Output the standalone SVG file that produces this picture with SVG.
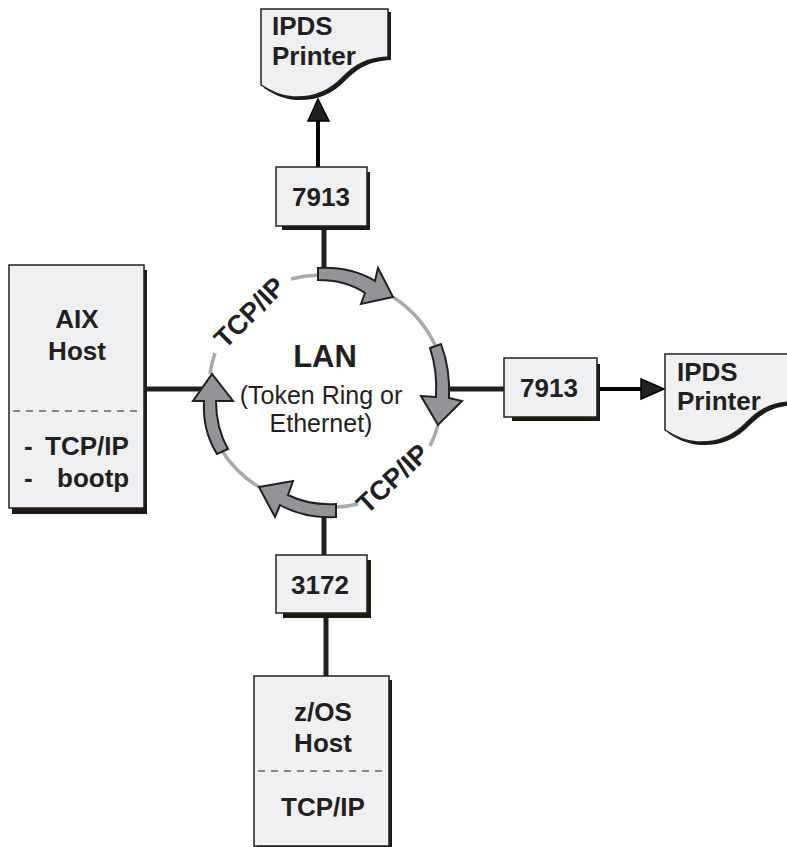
<svg xmlns="http://www.w3.org/2000/svg" width="787" height="847" viewBox="0 0 787 847">
<style>
text{font-family:"Liberation Sans",Arial,sans-serif;fill:#231f20}
.b{font-weight:bold;font-size:26px}
.m{text-anchor:middle}
.box{fill:#eff0f2;stroke:#231f20;stroke-width:1.5}
.sh{fill:#1e1a10}
.dash{stroke:#231f20;stroke-width:1;stroke-dasharray:7 6;fill:none}
.ln{stroke:#231f20;stroke-width:5;fill:none}
.ln2{stroke:#000;stroke-width:4;fill:none}
.ring{stroke:#a7a9ac;stroke-width:3.5;fill:none}
.arw{fill:#929497;stroke:#231f20;stroke-width:2;stroke-linejoin:miter}
.head{fill:#231f20;stroke:#000;stroke-width:1.5}
</style>
<defs>
<path id="pg" d="M261 9H388V57C366 58 354 66 343 77C329 92 312 98 293 97C280 96 270 91 261 85Z"/>
</defs>
<g id="connectors">
<path class="ln" d="M324 226V270"/>
<path class="ln" d="M146 389H208"/>
<path class="ln" d="M445 389H505"/>
<path class="ln" d="M324 515V556"/>
<path class="ln" d="M326 617V677"/>
<path class="ln2" d="M318 167V118"/>
<path class="head" d="M318 99L329 121H308Z"/>
<path class="ln2" d="M600 389H642"/>
<path class="head" d="M664 389L641 379V399Z"/>
<path class="ring" d="M291 279A116 116 0 0 1 318 275"/>
<path class="ring" d="M393 297A116 116 0 0 1 435 345"/>
<path class="ring" d="M438 425A116 116 0 0 1 430 446"/>
<path class="ring" d="M336 507A116 116 0 0 0 358 504"/>
<path class="ring" d="M259 487A116 116 0 0 1 222 451"/>
<path class="ring" d="M210 374A116 116 0 0 1 215 353"/>
</g>
<g id="ring-arrows">
<path class="arw" d="M318 268C340 267 360 272 375 281L378 268L393 297L361 304L365 293C352 284 336 280 318 280Z"/>
<path class="arw" d="M430 348L441 344C447 360 450 378 449 398L462 401L438 425L421 396L436 397C437 380 435 363 430 348Z"/>
<path class="arw" d="M336 504V517C315 518 296 514 280 505L275 517L259 487L293 481L288 495C302 502 318 505 336 504Z"/>
<path class="arw" d="M228 449L217 454C207 438 203 420 204 401H193L212 374L233 401H216C216 418 220 435 228 449Z"/>
</g>
<g id="lan">
<text class="m" x="325" y="367" font-size="31" font-weight="bold">LAN</text>
<text class="m" x="321" y="404" font-size="25">(Token Ring or</text>
<text class="m" x="321" y="432" font-size="25">Ethernet)</text>
<text class="m" font-size="27" font-weight="bold" transform="translate(249 312) rotate(-45)" x="0" y="10">TCP/IP</text>
<text class="m" font-size="27" font-weight="bold" transform="translate(392 478) rotate(-43)" x="0" y="10">TCP/IP</text>
</g>
<g id="printer-top">
<use href="#pg" class="sh" x="3" y="3"/>
<use href="#pg" fill="#eff0f2" stroke="#231f20" stroke-width="1.5"/>
<text class="b" x="272" y="35">IPDS</text>
<text class="b" x="272" y="65">Printer</text>
</g>
<g id="printer-right">
<use href="#pg" class="sh" x="407" y="348"/>
<use href="#pg" x="404" y="345" fill="#eff0f2" stroke="#231f20" stroke-width="1.5"/>
<text class="b" x="677" y="381">IPDS</text>
<text class="b" x="677" y="410">Printer</text>
</g>
<g id="box-7913-top">
<rect class="sh" x="282" y="172" width="88" height="58"/>
<rect class="box" x="276" y="167" width="91" height="59"/>
<text class="b m" x="321" y="206">7913</text>
</g>
<g id="box-7913-right">
<rect class="sh" x="512" y="364" width="88" height="57"/>
<rect class="box" x="504" y="358" width="93" height="59"/>
<text class="b m" x="549" y="397">7913</text>
</g>
<g id="box-3172">
<rect class="sh" x="283" y="560" width="88" height="58"/>
<rect class="box" x="276" y="555" width="91" height="58"/>
<text class="b m" x="320" y="594">3172</text>
</g>
<g id="aix-host">
<rect class="sh" x="12" y="270" width="135" height="244"/>
<rect class="box" x="9" y="265" width="135" height="243"/>
<path class="dash" d="M13 411H142"/>
<text class="b m" x="77" y="328">AIX</text>
<text class="b m" x="77" y="360">Host</text>
<text class="b" x="24" y="455">-</text>
<text class="b" x="45" y="455">TCP/IP</text>
<text class="b" x="24" y="487">-</text>
<text class="b" x="57" y="487">bootp</text>
</g>
<g id="zos-host">
<rect class="sh" x="257" y="680" width="135" height="167"/>
<rect class="box" x="254" y="676" width="135" height="170"/>
<path class="dash" d="M258 771H387"/>
<text class="b m" x="323" y="721">z/OS</text>
<text class="b m" x="323" y="752">Host</text>
<text class="b m" x="323" y="816">TCP/IP</text>
</g>
</svg>
